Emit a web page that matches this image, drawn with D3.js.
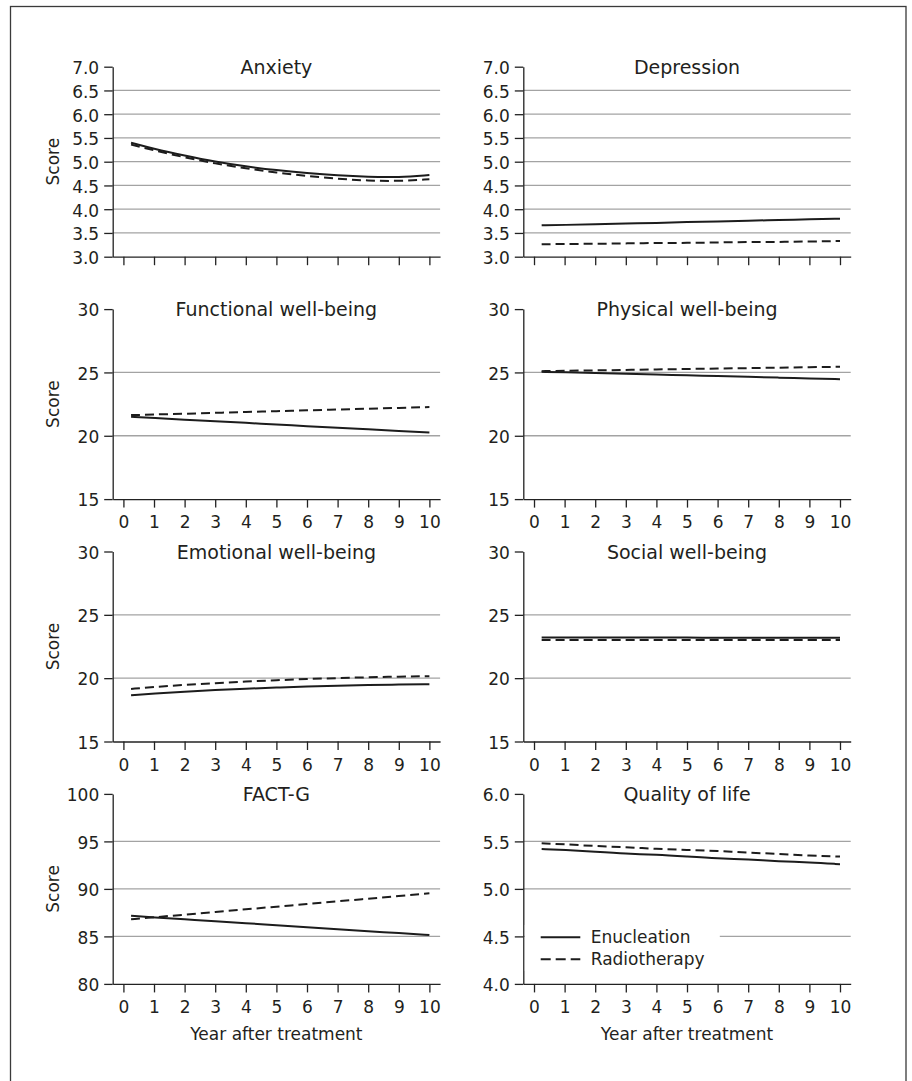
<!DOCTYPE html>
<html>
<head>
<meta charset="utf-8">
<script src="https://cdn.jsdelivr.net/npm/d3@7"></script>
<style>
body { margin: 0; background: #fff; }
svg { display: block; font-family: "DejaVu Sans", sans-serif; }
.grid { stroke: #a3a3a3; stroke-width: 1.3; }
.axis path, .axis line { stroke: #222; stroke-width: 1.3; }
.axis text { fill: #231f20; }
.series { fill: none; stroke: #1c1c1c; stroke-width: 2; }
</style>
</head>
<body>
<script>
"use strict";

// years at which each curve is read (curves start just after 0)
var years = [0.25, 1, 2, 3, 4, 5, 6, 7, 8, 9, 10];
var xTicks = [0, 1, 2, 3, 4, 5, 6, 7, 8, 9, 10];

var titles = ["Anxiety", "Depression", "Functional well-being", "Physical well-being",
              "Emotional well-being", "Social well-being", "FACT-G", "Quality of life"];
var seriesNames = ["Enucleation", "Radiotherapy"];

// y axis ticks per panel
var ticksHads = [3.0, 3.5, 4.0, 4.5, 5.0, 5.5, 6.0, 6.5, 7.0];
var ticksSub = [15, 20, 25, 30];
var ticksFactG = [80, 85, 90, 95, 100];
var ticksQol = [4.0, 4.5, 5.0, 5.5, 6.0];

// Enucleation (solid) / Radiotherapy (dashed) scores
var anxietyEnu = [5.40, 5.27, 5.13, 5.00, 4.90, 4.82, 4.76, 4.71, 4.68, 4.67, 4.72];
var anxietyRad = [5.36, 5.24, 5.09, 4.96, 4.86, 4.77, 4.70, 4.64, 4.60, 4.59, 4.63];
var depressionEnu = [3.66, 3.67, 3.68, 3.70, 3.71, 3.73, 3.74, 3.76, 3.77, 3.79, 3.80];
var depressionRad = [3.26, 3.27, 3.27, 3.28, 3.29, 3.29, 3.30, 3.31, 3.31, 3.32, 3.33];
var functionalEnu = [21.50, 21.40, 21.27, 21.15, 21.02, 20.89, 20.76, 20.63, 20.51, 20.38, 20.25];
var functionalRad = [21.63, 21.68, 21.74, 21.81, 21.88, 21.94, 22.01, 22.07, 22.14, 22.20, 22.27];
var physicalEnu = [25.05, 25.01, 24.95, 24.89, 24.83, 24.77, 24.71, 24.65, 24.59, 24.53, 24.47];
var physicalRad = [25.10, 25.13, 25.16, 25.20, 25.24, 25.27, 25.31, 25.34, 25.38, 25.41, 25.45];
var emotionalEnu = [18.65, 18.78, 18.93, 19.06, 19.17, 19.26, 19.34, 19.41, 19.46, 19.50, 19.52];
var emotionalRad = [19.15, 19.30, 19.47, 19.61, 19.73, 19.84, 19.93, 20.01, 20.07, 20.12, 20.16];
var socialEnu = [23.22, 23.22, 23.21, 23.21, 23.21, 23.20, 23.20, 23.20, 23.19, 23.19, 23.19];
var socialRad = [23.02, 23.02, 23.02, 23.02, 23.02, 23.02, 23.02, 23.02, 23.02, 23.02, 23.02];
var factgEnu = [87.17, 87.01, 86.80, 86.60, 86.39, 86.18, 85.97, 85.76, 85.55, 85.35, 85.14];
var factgRad = [86.80, 87.01, 87.29, 87.57, 87.85, 88.13, 88.41, 88.69, 88.97, 89.25, 89.53];
var qolEnu = [5.42, 5.41, 5.39, 5.37, 5.36, 5.34, 5.32, 5.31, 5.29, 5.28, 5.26];
var qolRad = [5.48, 5.47, 5.45, 5.44, 5.42, 5.41, 5.40, 5.38, 5.37, 5.35, 5.34];

var panels = [
  {ticks: ticksHads, fmt: d3.format(".1f"), enu: anxietyEnu, rad: anxietyRad},
  {ticks: ticksHads, fmt: d3.format(".1f"), enu: depressionEnu, rad: depressionRad},
  {ticks: ticksSub, fmt: d3.format("d"), enu: functionalEnu, rad: functionalRad},
  {ticks: ticksSub, fmt: d3.format("d"), enu: physicalEnu, rad: physicalRad},
  {ticks: ticksSub, fmt: d3.format("d"), enu: emotionalEnu, rad: emotionalRad},
  {ticks: ticksSub, fmt: d3.format("d"), enu: socialEnu, rad: socialRad},
  {ticks: ticksFactG, fmt: d3.format("d"), enu: factgEnu, rad: factgRad},
  {ticks: ticksQol, fmt: d3.format(".1f"), enu: qolEnu, rad: qolRad}
];

// layout
var width = 912, height = 1081;
var colX = [112.7, 523.3], plotW = 327.4;
var rowY = [66.7, 309.1, 551.5, 793.9], plotH = 190;
var dash = "9,5";

var svg = d3.select("body").append("svg")
    .attr("width", width)
    .attr("height", height);

// outer frame (open at the bottom of the crop)
svg.append("rect")
    .attr("x", 10.5).attr("y", 6.5)
    .attr("width", 895.5).attr("height", 1200)
    .attr("fill", "none")
    .attr("stroke", "#3a3a3a")
    .attr("stroke-width", 1.3);

var x = d3.scaleLinear().domain([-0.35, 10.35]).range([0, plotW]);

panels.forEach(function(p, i) {
  var col = i % 2, row = Math.floor(i / 2);
  var y = d3.scaleLinear()
      .domain([p.ticks[0], p.ticks[p.ticks.length - 1]])
      .range([plotH, 0]);

  var g = svg.append("g")
      .attr("transform", "translate(" + colX[col] + "," + rowY[row] + ")");

  // gridlines, not on the first/last tick
  g.selectAll(".grid").data(p.ticks.slice(1, -1))
    .enter().append("line")
      .attr("class", "grid")
      .attr("x1", 0).attr("x2", plotW)
      .attr("y1", function(d) { return y(d); })
      .attr("y2", function(d) { return y(d); });

  var yAxis = d3.axisLeft(y)
      .tickValues(p.ticks)
      .tickFormat(p.fmt)
      .tickSize(8.5)
      .tickPadding(5)
      .tickSizeOuter(0);

  var xAxis = d3.axisBottom(x)
      .tickValues(xTicks)
      .tickSize(8.5)
      .tickPadding(8.5)
      .tickSizeOuter(0);
  if (row === 0) xAxis.tickFormat("");

  g.append("g")
      .attr("class", "axis")
      .call(yAxis)
      .attr("font-family", null)
      .attr("font-size", 17)
    .selectAll("text")
      .attr("dy", "0.4em");

  g.append("g")
      .attr("class", "axis")
      .attr("transform", "translate(0," + plotH + ")")
      .call(xAxis)
      .attr("font-family", null)
      .attr("font-size", 17);

  g.append("text")
      .attr("x", plotW / 2)
      .attr("y", 7)
      .attr("text-anchor", "middle")
      .attr("font-size", 19)
      .attr("fill", "#231f20")
      .text(titles[i]);

  if (col === 0) {
    g.append("text")
        .attr("transform", "translate(-59.5," + (plotH / 2) + ") rotate(-90)")
        .attr("text-anchor", "middle")
        .attr("dy", "0.35em")
        .attr("font-size", 17)
        .attr("fill", "#231f20")
        .text("Score");
  }

  if (row === 3) {
    g.append("text")
        .attr("x", plotW / 2)
        .attr("y", plotH + 56.5)
        .attr("text-anchor", "middle")
        .attr("font-size", 17)
        .attr("fill", "#231f20")
        .text("Year after treatment");
  }

  var line = d3.line()
      .x(function(d) { return x(d[0]); })
      .y(function(d) { return y(d[1]); })
      .curve(d3.curveBasis);

  [p.enu, p.rad].forEach(function(vals, k) {
    g.append("path")
        .datum(d3.zip(years, vals))
        .attr("class", "series")
        .attr("stroke-dasharray", k === 1 ? dash : null)
        .attr("d", line);
  });

  // legend sits in the Quality of life panel
  if (i === 7) {
    var lg = g.append("g");
    lg.append("rect")
        .attr("x", 1.5).attr("y", 131)
        .attr("width", 195).attr("height", 46)
        .attr("fill", "#fff");
    seriesNames.forEach(function(name, k) {
      var ly = 143.4 + k * 22;
      lg.append("line")
          .attr("class", "series")
          .attr("x1", 17.4).attr("x2", 57)
          .attr("y1", ly).attr("y2", ly)
          .attr("stroke-dasharray", k === 1 ? "10,5" : null);
      lg.append("text")
          .attr("x", 67.4)
          .attr("y", ly)
          .attr("dy", "0.35em")
          .attr("font-size", 17)
          .attr("fill", "#231f20")
          .text(name);
    });
  }
});
</script>
</body>
</html>
